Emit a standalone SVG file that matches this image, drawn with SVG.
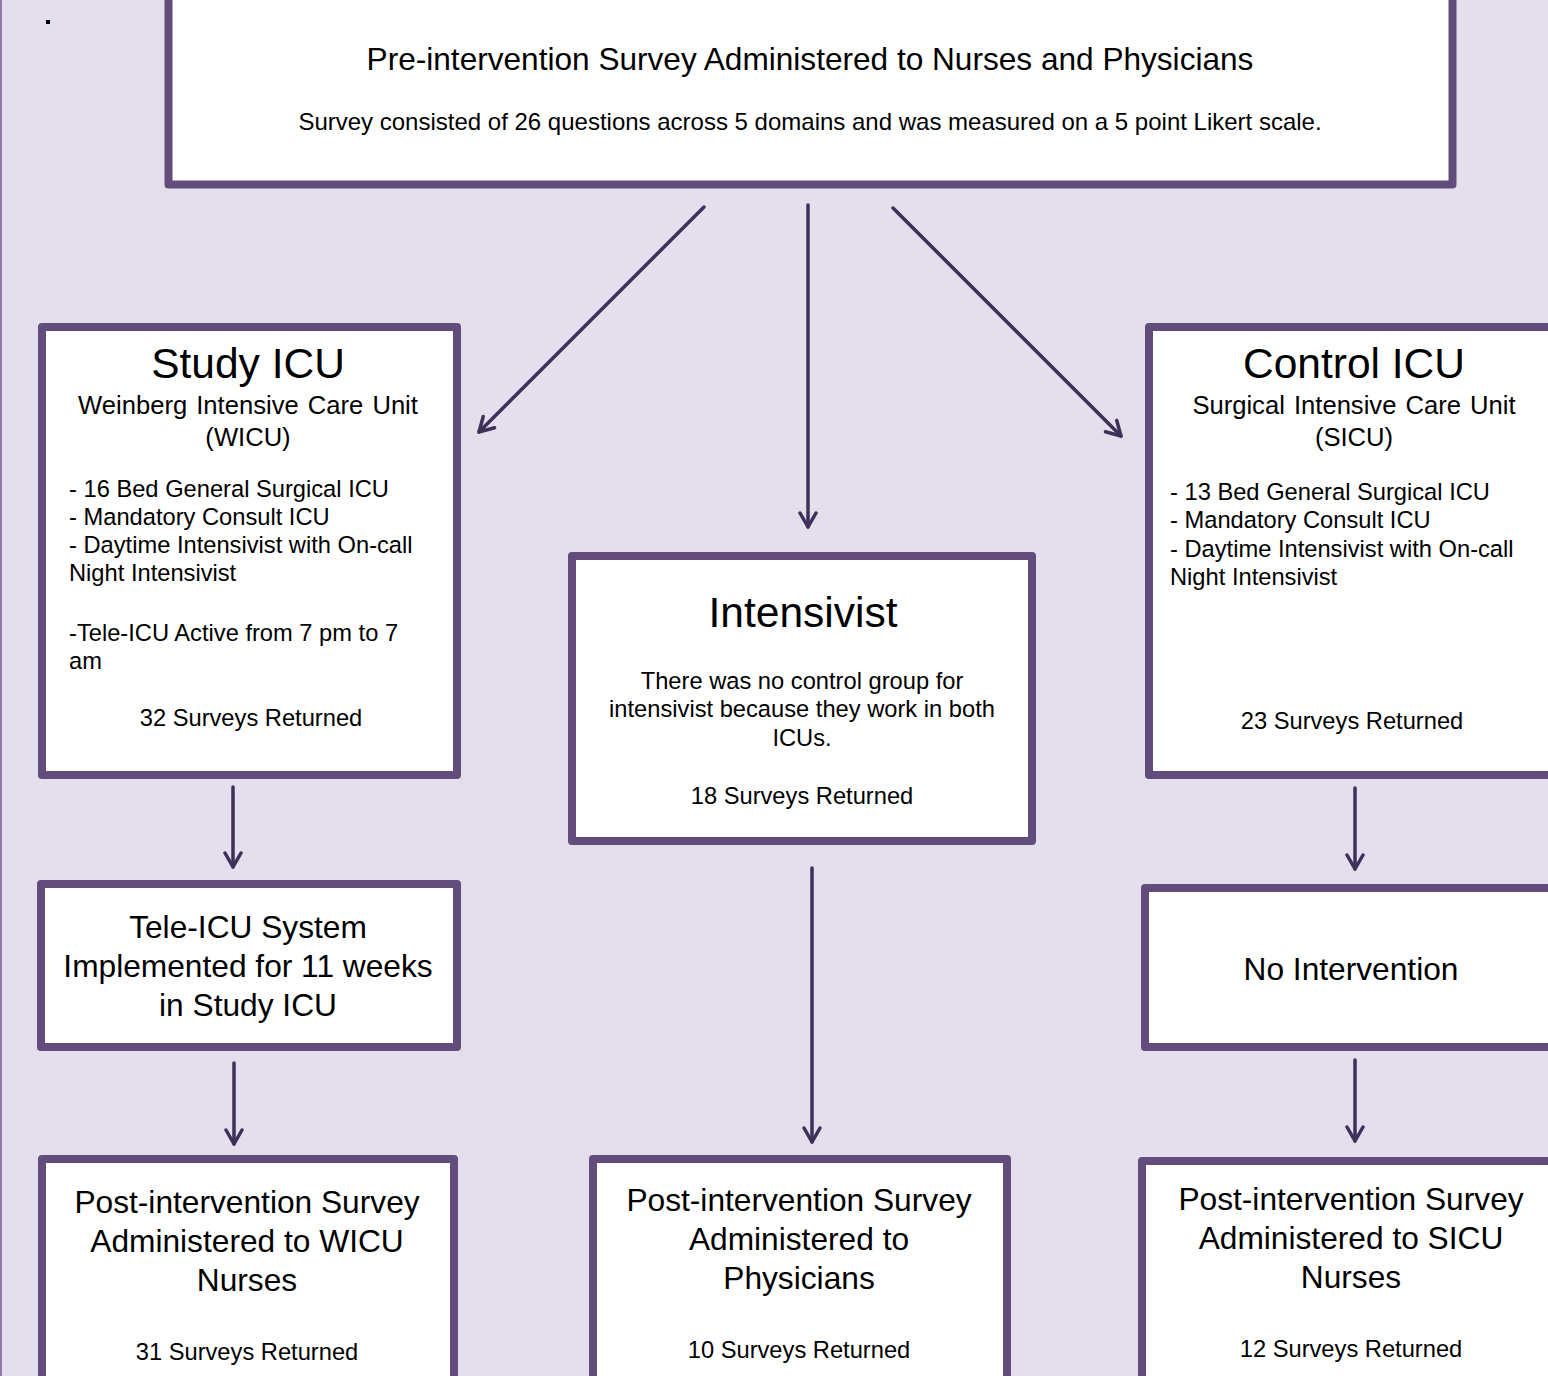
<svg xmlns="http://www.w3.org/2000/svg" width="1548" height="1376" viewBox="0 0 1548 1376">
<defs>
<style>
.box{fill:#fff;stroke:#614C7C;stroke-width:8;stroke-linejoin:round}
.con{stroke:#3F3059;stroke-width:3.5;fill:none;stroke-linecap:round}
text{font-family:"Liberation Sans",Arial,sans-serif;fill:#000}
.c{text-anchor:middle}
.t42{font-size:42.5px}
.t31{font-size:31.7px}
.t29{font-size:31.6px}
.t25{font-size:25.6px;word-spacing:2px}
.t22{font-size:23.7px}
.t24{font-size:24px}
</style>
<marker id="ah" viewBox="0 0 20 20" refX="17" refY="10" markerWidth="20" markerHeight="20" markerUnits="userSpaceOnUse" orient="auto">
<path d="M3,2 L17,10 L3,18" fill="none" stroke="#3F3059" stroke-width="3.5" stroke-linecap="round" stroke-linejoin="round"/>
</marker>
</defs>
<rect x="0" y="0" width="1548" height="1376" fill="#E4DFEC"/>
<line x1="1" y1="0" x2="1" y2="1376" stroke="#8F7BAE" stroke-width="2"/>
<rect x="46" y="20" width="4" height="4" fill="#000"/>

<g id="connectors">
<line class="con" x1="704" y1="207" x2="479" y2="432" marker-end="url(#ah)"/>
<line class="con" x1="808" y1="205" x2="808" y2="527" marker-end="url(#ah)"/>
<line class="con" x1="893" y1="208" x2="1121" y2="436" marker-end="url(#ah)"/>
<line class="con" x1="233" y1="787" x2="233" y2="867" marker-end="url(#ah)"/>
<line class="con" x1="234" y1="1063" x2="234" y2="1144" marker-end="url(#ah)"/>
<line class="con" x1="812" y1="868" x2="812" y2="1142" marker-end="url(#ah)"/>
<line class="con" x1="1355" y1="788" x2="1355" y2="869" marker-end="url(#ah)"/>
<line class="con" x1="1355" y1="1060" x2="1355" y2="1141" marker-end="url(#ah)"/>
</g>

<g id="pre">
<rect class="box" x="168.5" y="-10" width="1284" height="194.5"/>
<text class="c t29" x="810" y="70">Pre-intervention Survey Administered to Nurses and Physicians</text>
<text class="c t24" x="810" y="130">Survey consisted of 26 questions across 5 domains and was measured on a 5 point Likert scale.</text>
</g>

<g id="study">
<rect class="box" x="42" y="327" width="415" height="448"/>
<text class="c t42" x="248" y="378">Study ICU</text>
<text class="c t25" x="248" y="414">Weinberg Intensive Care Unit</text>
<text class="c t25" x="248" y="446">(WICU)</text>
<text class="t22" x="69" y="497">- 16 Bed General Surgical ICU</text>
<text class="t22" x="69" y="525">- Mandatory Consult ICU</text>
<text class="t22" x="69" y="553">- Daytime Intensivist with On-call</text>
<text class="t22" x="69" y="581">Night Intensivist</text>
<text class="t22" x="69" y="641">-Tele-ICU Active from 7 pm to 7</text>
<text class="t22" x="69" y="669">am</text>
<text class="c t22" x="251" y="726">32 Surveys Returned</text>
</g>

<g id="intensivist">
<rect class="box" x="572" y="556" width="460" height="285"/>
<text class="c t42" x="803" y="627">Intensivist</text>
<text class="c t22" x="802" y="689">There was no control group for</text>
<text class="c t22" x="802" y="717">intensivist because they work in both</text>
<text class="c t22" x="802" y="746">ICUs.</text>
<text class="c t22" x="802" y="804">18 Surveys Returned</text>
</g>

<g id="control">
<rect class="box" x="1149" y="327" width="420" height="448"/>
<text class="c t42" x="1354" y="378">Control ICU</text>
<text class="c t25" x="1354" y="414">Surgical Intensive Care Unit</text>
<text class="c t25" x="1354" y="446">(SICU)</text>
<text class="t22" x="1170" y="500">- 13 Bed General Surgical ICU</text>
<text class="t22" x="1170" y="528">- Mandatory Consult ICU</text>
<text class="t22" x="1170" y="557">- Daytime Intensivist with On-call</text>
<text class="t22" x="1170" y="585">Night Intensivist</text>
<text class="c t22" x="1352" y="729">23 Surveys Returned</text>
</g>

<g id="tele">
<rect class="box" x="41" y="884" width="416" height="163"/>
<text class="c t31" x="248" y="938">Tele-ICU System</text>
<text class="c t31" x="248" y="977">Implemented for 11 weeks</text>
<text class="c t31" x="248" y="1016">in Study ICU</text>
</g>

<g id="nointervention">
<rect class="box" x="1145" y="888" width="420" height="159"/>
<text class="c t31" x="1351" y="980">No Intervention</text>
</g>

<g id="postwicu">
<rect class="box" x="42" y="1159" width="412" height="240"/>
<text class="c t31" x="247" y="1213">Post-intervention Survey</text>
<text class="c t31" x="247" y="1252">Administered to WICU</text>
<text class="c t31" x="247" y="1291">Nurses</text>
<text class="c t22" x="247" y="1360">31 Surveys Returned</text>
</g>

<g id="postphys">
<rect class="box" x="593" y="1159" width="414" height="240"/>
<text class="c t31" x="799" y="1211">Post-intervention Survey</text>
<text class="c t31" x="799" y="1250">Administered to</text>
<text class="c t31" x="799" y="1289">Physicians</text>
<text class="c t22" x="799" y="1358">10 Surveys Returned</text>
</g>

<g id="postsicu">
<rect class="box" x="1142" y="1161" width="420" height="240"/>
<text class="c t31" x="1351" y="1210">Post-intervention Survey</text>
<text class="c t31" x="1351" y="1249">Administered to SICU</text>
<text class="c t31" x="1351" y="1288">Nurses</text>
<text class="c t22" x="1351" y="1357">12 Surveys Returned</text>
</g>
</svg>
